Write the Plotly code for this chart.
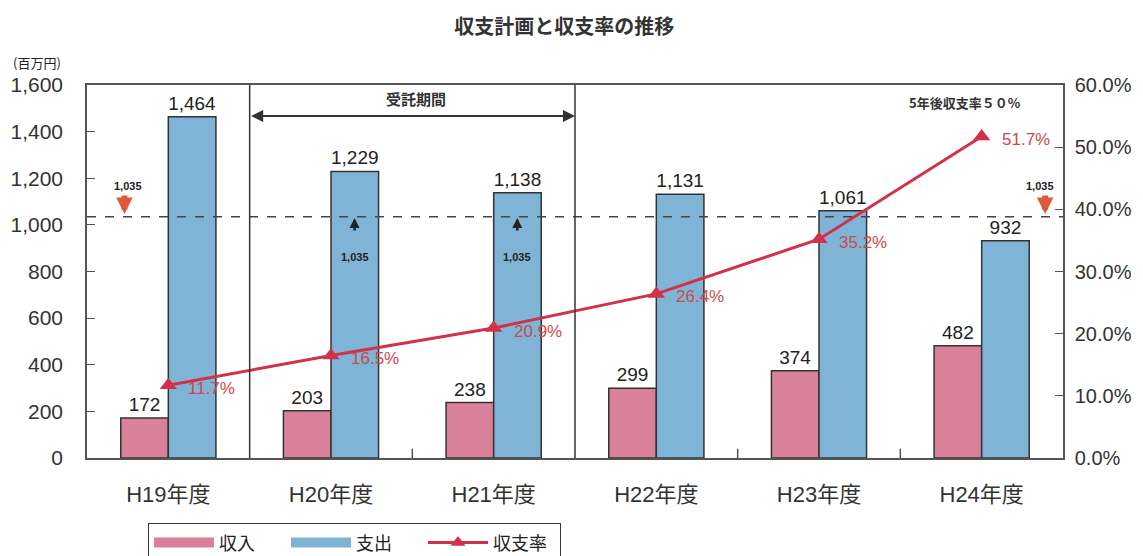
import plotly.graph_objects as go

categories = ["H19年度", "H20年度", "H21年度", "H22年度", "H23年度", "H24年度"]
income = [172, 203, 238, 299, 374, 482]
expense = [1464, 1229, 1138, 1131, 1061, 932]
ratio = [0.117, 0.165, 0.209, 0.264, 0.352, 0.517]
ratio_labels = ["11.7%", "16.5%", "20.9%", "26.4%", "35.2%", "51.7%"]
threshold = 1035
y_ticks = [0, 200, 400, 600, 800, 1000, 1200, 1400, 1600]
y2_ticks = [0, 0.1, 0.2, 0.3, 0.4, 0.5, 0.6]

FONT = "Liberation Sans, Arial, Noto Sans CJK JP"
PINK = "#d9809a"
BLUE = "#80b4d6"
RED = "#d3304a"
ARROW_RED = "#e0583c"

xi = list(range(len(categories)))

fig = go.Figure()
fig.add_trace(go.Bar(
    x=xi, y=income, name="収入", showlegend=False,
    marker=dict(color=PINK, line=dict(color="#333", width=1.5)),
    text=[f"{v:,}" for v in income], textposition="outside",
    textfont=dict(size=19, color="#222"), cliponaxis=False,
))
fig.add_trace(go.Bar(
    x=xi, y=expense, name="支出", showlegend=False,
    marker=dict(color=BLUE, line=dict(color="#333", width=1.5)),
    text=[f"{v:,}" for v in expense], textposition="outside",
    textfont=dict(size=19, color="#222"), cliponaxis=False,
))
fig.add_trace(go.Scatter(
    x=xi, y=ratio, name="収支率", yaxis="y2", showlegend=False,
    mode="lines+markers",
    line=dict(color=RED, width=3),
    marker=dict(symbol="triangle-up", size=15, color=RED),
    cliponaxis=False,
))
# legend entries (wide rectangle look)
fig.add_trace(go.Scatter(x=[None], y=[None], mode="lines", name="収入",
                         line=dict(color=PINK, width=10)))
fig.add_trace(go.Scatter(x=[None], y=[None], mode="lines", name="支出",
                         line=dict(color=BLUE, width=10)))
fig.add_trace(go.Scatter(x=[None], y=[None], mode="lines+markers", name="収支率",
                         line=dict(color=RED, width=3),
                         marker=dict(symbol="triangle-up", size=13, color=RED)))

# dashed threshold line
fig.add_shape(type="line", xref="paper", yref="y", x0=0, x1=1, y0=threshold, y1=threshold,
              line=dict(color="#444", width=1.5, dash="dash"))
# period separators
for b in [0.5, 2.5]:
    fig.add_shape(type="line", xref="x", yref="paper", x0=b, x1=b, y0=0, y1=1,
                  line=dict(color="#333", width=1.5))
# boundary ticks on x axis
for b in [1.5, 3.5, 4.5]:
    fig.add_shape(type="line", xref="x", yref="paper", x0=b, x1=b, y0=0, y1=0.025,
                  line=dict(color="#555", width=1.5))

ann = []
# ratio labels
for i, (r, lab) in enumerate(zip(ratio, ratio_labels)):
    ann.append(dict(x=i, y=r, xref="x", yref="y2", text=lab, showarrow=False,
                    xanchor="left", xshift=18, yshift=-3,
                    font=dict(size=17, color="#cc4a4a", family=FONT)))
# 受託期間 double arrow
ann.append(dict(x=2.5, y=1467, ax=0.5, ay=1467, xref="x", yref="y", axref="x", ayref="y",
                showarrow=True, arrowhead=2, arrowside="end+start", arrowsize=1.2,
                arrowwidth=2, arrowcolor="#333", text=""))
ann.append(dict(x=1.52, y=1540, xref="x", yref="y", text="<b>受託期間</b>", showarrow=False,
                font=dict(size=15, color="#333", family="Noto Sans CJK JP")))
ann.append(dict(x=4.9, y=1525, xref="x", yref="y", text="<b>5年後収支率５０%</b>", showarrow=False,
                font=dict(size=13, color="#333", family="Noto Sans CJK JP")))
# red down arrows with 1,035 labels
for xpos, tx in [(-0.27, -0.25), (5.39, 5.36)]:
    ann.append(dict(x=xpos, y=threshold + 12, xref="x", yref="y", ax=0, ay=-20,
                    showarrow=True, arrowhead=2, arrowsize=0.55, arrowwidth=6,
                    arrowcolor=ARROW_RED, text=""))
    ann.append(dict(x=tx, y=1165, xref="x", yref="y", text="<b>1,035</b>", showarrow=False,
                    font=dict(size=11, color="#222", family=FONT)))
# black up arrows in H20, H21 blue bars
for xpos in [1.145, 2.145]:
    ann.append(dict(x=xpos, y=threshold - 5, xref="x", yref="y", ax=0, ay=14,
                    showarrow=True, arrowhead=2, arrowsize=0.8, arrowwidth=2.5,
                    arrowcolor="#222", text=""))
    ann.append(dict(x=xpos, y=862, xref="x", yref="y", text="<b>1,035</b>", showarrow=False,
                    font=dict(size=11, color="#222", family=FONT)))
# unit label
ann.append(dict(x=-0.078, y=1.059, xref="paper", yref="paper", text="(百万円)", showarrow=False,
                xanchor="left", yanchor="middle",
                font=dict(size=13, color="#222", family="Noto Sans CJK JP")))

fig.update_layout(
    width=1135, height=548,
    paper_bgcolor="white", plot_bgcolor="white",
    margin=dict(l=79, r=80, t=77, b=98, autoexpand=False),
    font=dict(family=FONT, color="#333"),
    title=dict(text="<b>収支計画と収支率の推移</b>", x=0.49, xanchor="center",
               y=0.966, yanchor="middle", yref="container",
               font=dict(size=20, color="#333", family="Noto Sans CJK JP")),
    barmode="group", bargap=0.415, bargroupgap=0,
    showlegend=True,
    legend=dict(orientation="h", x=0.0625, y=-0.175, xanchor="left", yanchor="top",
                bordercolor="#333", borderwidth=1,
                font=dict(size=18, color="#222", family="Noto Sans CJK JP"),
                itemwidth=60, entrywidth=62, entrywidthmode="pixels", tracegroupgap=0),
    annotations=ann,
    xaxis=dict(tickmode="array", tickvals=xi, ticktext=categories, range=[-0.5, 5.5],
               showline=True, linecolor="#555", linewidth=1.5, mirror=True,
               ticks="", ticklabelstandoff=16, tickfont=dict(size=22, color="#333"),
               showgrid=False, zeroline=False),
    yaxis=dict(range=[0, 1600], tickvals=y_ticks, tickformat=",d",
               showline=True, linecolor="#555", linewidth=1.5,
               ticks="inside", ticklen=8, tickcolor="#555", ticklabelstandoff=18,
               tickfont=dict(size=21, color="#333"), showgrid=False, zeroline=False),
    yaxis2=dict(range=[0, 0.6], tickvals=y2_ticks, tickformat=".1%", overlaying="y", side="right",
                showline=True, linecolor="#555", linewidth=1.5,
                ticks="inside", ticklen=8, tickcolor="#555", ticklabelstandoff=6,
                tickfont=dict(size=20, color="#333"), showgrid=False, zeroline=False),
)

fig.write_html("out.html")
